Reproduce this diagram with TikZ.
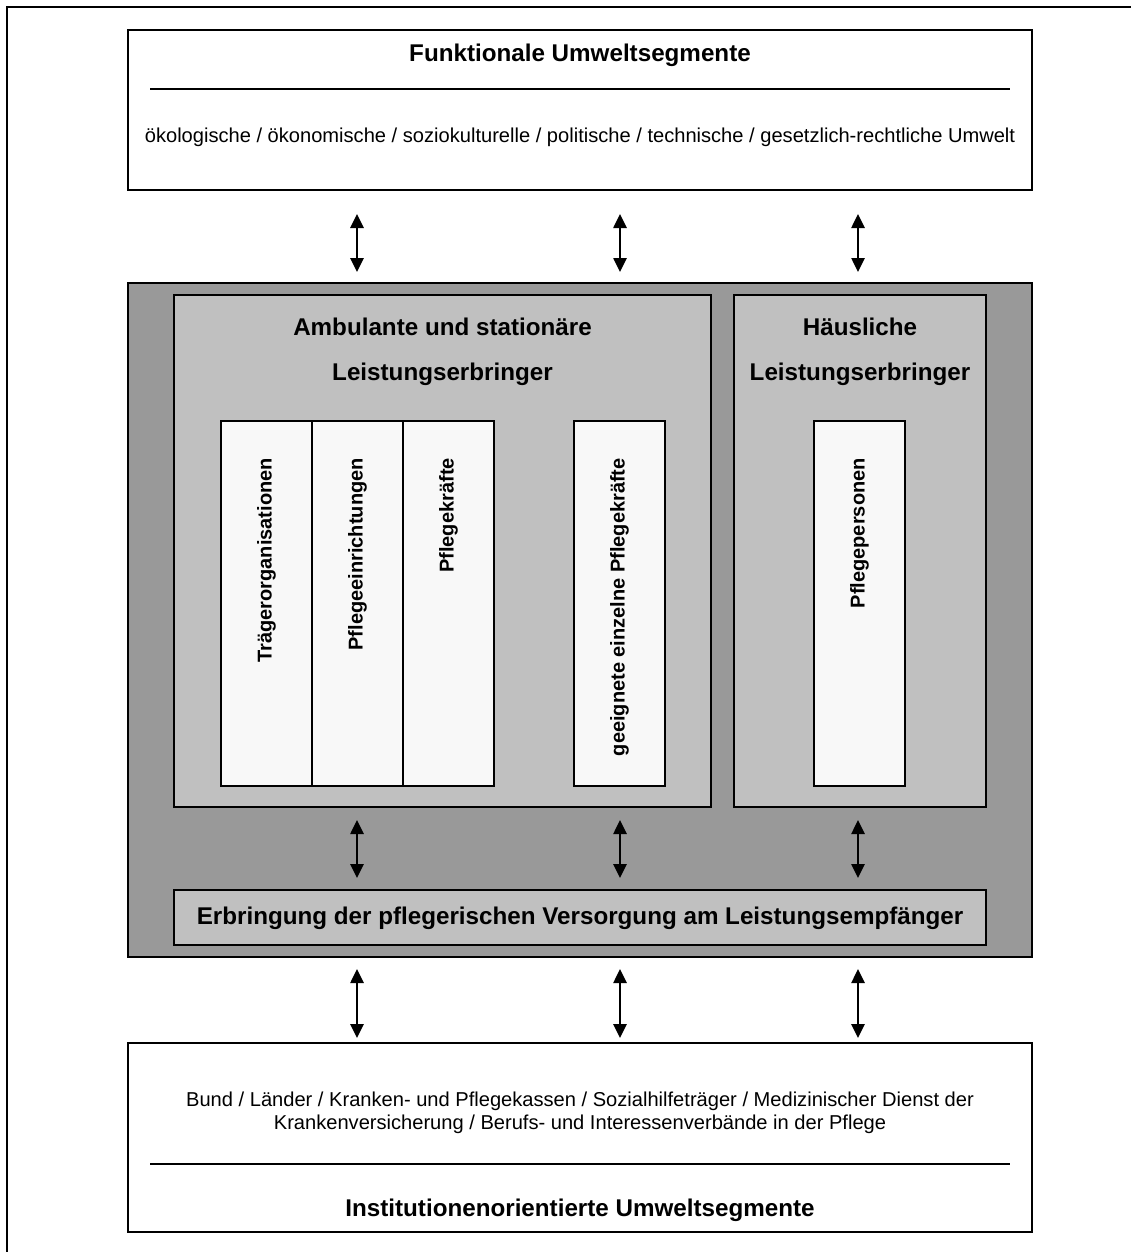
\documentclass[tikz,border=0pt]{standalone}
\usepackage{fontspec}
\setmainfont{Liberation Sans}
\usetikzlibrary{arrows.meta}
\definecolor{outergray}{HTML}{999999}
\definecolor{innergray}{HTML}{C0C0C0}
\definecolor{colfill}{HTML}{F8F8F8}
\begin{document}
\begin{tikzpicture}[x=1pt,y=-1pt,
  box/.style={draw=black, line width=1.6pt, rectangle, inner sep=0pt, outer sep=0pt, anchor=north west},
  colbox/.style={box, fill=colfill, minimum width=91pt, minimum height=365pt},
  coltext/.style={rotate=90, anchor=east, inner sep=0pt, font=\fontsize{20}{24}\selectfont\bfseries},
  headtext/.style={align=center, inner sep=0pt, font=\fontsize{24.2}{45}\selectfont\bfseries},
  plain/.style={align=center, inner sep=0pt, font=\fontsize{20.1}{23}\selectfont},
  titletext/.style={inner sep=0pt, font=\fontsize{24.2}{28}\selectfont\bfseries},
  rule/.style={line width=1.2pt},
  biarrow/.style={line width=2.6pt, {Triangle[width=13pt,length=14pt]}-{Triangle[width=13pt,length=14pt]}}
]
\useasboundingbox (0,0) rectangle (1131,1252);
% page frame, running off the right and bottom edges
\draw[line width=2pt] (1140,7) -- (7,7) -- (7,1260);

% functional environment
\node[box, fill=white, minimum width=904pt, minimum height=160pt] (top) at (128,30) {};
\node[titletext] (toptitle) at (580,55) {Funktionale Umweltsegmente};
\draw[rule] (150,89) -- (1010,89);
\node[plain] (toptext) at (580,137) {ökologische / ökonomische / soziokulturelle / politische / technische / gesetzlich-rechtliche Umwelt};

% providers block
\node[box, fill=outergray, minimum width=904pt, minimum height=674pt] (gray) at (128,283) {};
\node[box, fill=innergray, minimum width=537pt, minimum height=512pt] (lbox) at (174,295) {};
\node[box, fill=innergray, minimum width=252pt, minimum height=512pt] (rbox) at (734,295) {};
\node[headtext] (lhead) at (442.5,352) {Ambulante und stationäre\\Leistungserbringer};
\node[headtext] (rhead) at (860,352) {Häusliche\\Leistungserbringer};

\node[colbox] (c1box) at (221,421) {};
\node[colbox] (c2box) at (312,421) {};
\node[colbox] (c3box) at (403,421) {};
\node[colbox] (c4box) at (574,421) {};
\node[colbox] (c5box) at (814,421) {};
\node[coltext] (c1text) at (266.5,458) {Trägerorganisationen};
\node[coltext] (c2text) at (357.5,458) {Pflegeeinrichtungen};
\node[coltext] (c3text) at (448.5,458) {Pflegekräfte};
\node[coltext] (c4text) at (619.5,458) {geeignete einzelne Pflegekräfte};
\node[coltext] (c5text) at (859.5,458) {Pflegepersonen};

\node[box, fill=innergray, minimum width=812pt, minimum height=55pt] (care) at (174,890) {};
\node[inner sep=0pt, font=\fontsize{24.2}{28}\selectfont\bfseries] (caretext) at (580,918) {Erbringung der pflegerischen Versorgung am Leistungsempfänger};

% institutional environment
\node[box, fill=white, minimum width=904pt, minimum height=189pt] (bottom) at (128,1043) {};
\node[plain] (bottomtext) at (580,1112.5) {Bund / Länder / Kranken- und Pflegekassen / Sozialhilfeträger / Medizinischer Dienst der\\Krankenversicherung / Berufs- und Interessenverbände in der Pflege};
\draw[rule] (150,1164) -- (1010,1164);
\node[titletext] (bottomtitle) at (580,1210) {Institutionenorientierte Umweltsegmente};

% arrow columns
\coordinate (a1) at (357,0);
\coordinate (a2) at (620,0);
\coordinate (a3) at (858,0);

\foreach \c in {a1,a2,a3}
  \draw[biarrow, shorten <=24pt, shorten >=11pt] (top.south -| \c) -- (gray.north -| \c);
\draw[biarrow, shorten <=13pt, shorten >=12pt] (lbox.south -| a1) -- (care.north -| a1);
\draw[biarrow, shorten <=13pt, shorten >=12pt] (lbox.south -| a2) -- (care.north -| a2);
\draw[biarrow, shorten <=13pt, shorten >=12pt] (rbox.south -| a3) -- (care.north -| a3);
\foreach \c in {a1,a2,a3}
  \draw[biarrow, shorten <=12pt, shorten >=5pt] (gray.south -| \c) -- (bottom.north -| \c);
\end{tikzpicture}
\end{document}
